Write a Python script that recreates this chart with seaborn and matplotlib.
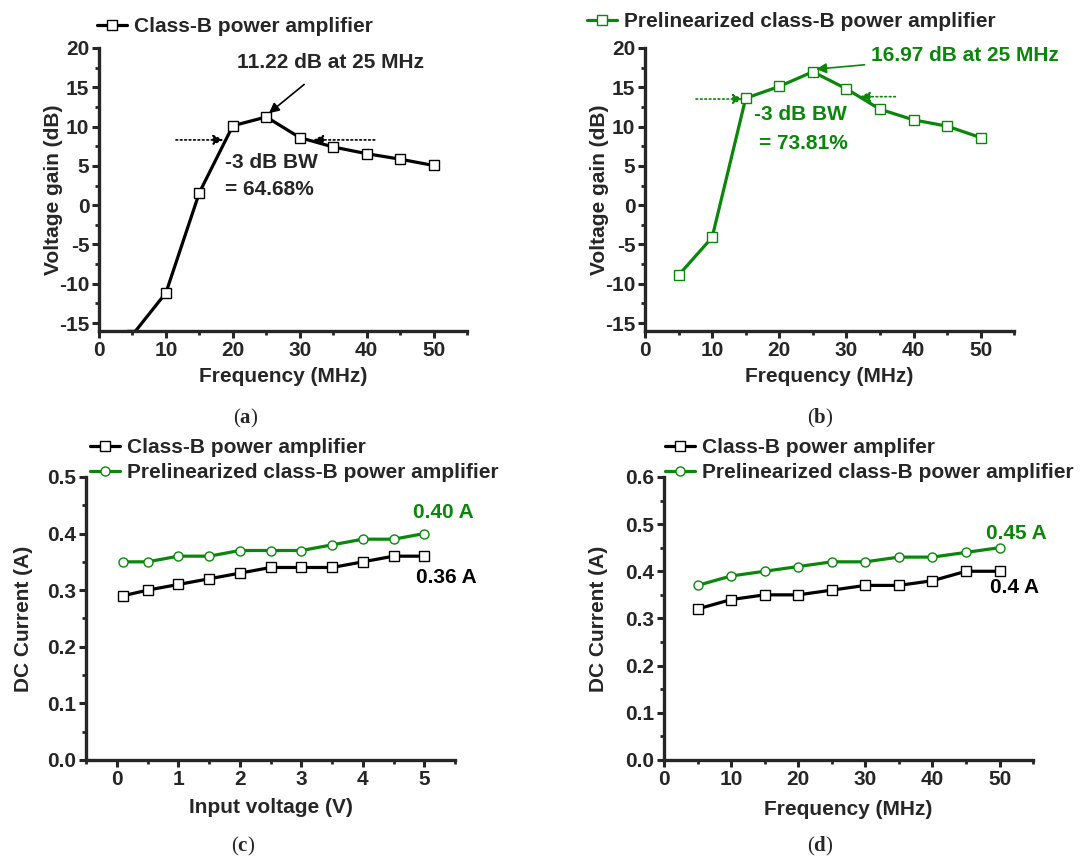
import matplotlib
matplotlib.use("Agg")
import matplotlib.pyplot as plt
import seaborn as sns
from matplotlib.ticker import MultipleLocator, AutoMinorLocator, FormatStrFormatter

sns.set_style("ticks")
plt.rcParams['font.family'] = ['Liberation Sans', 'DejaVu Sans']
plt.rcParams['font.weight'] = 'bold'
plt.rcParams['axes.unicode_minus'] = False
plt.rcParams['mathtext.fontset'] = 'custom'
plt.rcParams['mathtext.rm'] = 'Liberation Serif'
plt.rcParams['mathtext.bf'] = 'Liberation Serif:bold'

GREEN = '#0a870a'

# (a) / (b) voltage gain vs frequency
freq = [5, 10, 15, 20, 25, 30, 35, 40, 45, 50]
gain_classb = [-16.5, -11.15, 1.6, 10.1, 11.22, 8.6, 7.4, 6.55, 5.85, 5.05]
gain_prelin = [-8.9, -4.1, 13.6, 15.1, 16.97, 14.8, 12.2, 10.85, 10.05, 8.6]

# (c) DC current vs input voltage
vin = [0.1, 0.5, 1, 1.5, 2, 2.5, 3, 3.5, 4, 4.5, 5]
idc_v_classb = [0.29, 0.30, 0.31, 0.32, 0.33, 0.34, 0.34, 0.34, 0.35, 0.36, 0.36]
idc_v_prelin = [0.35, 0.35, 0.36, 0.36, 0.37, 0.37, 0.37, 0.38, 0.39, 0.39, 0.40]

# (d) DC current vs frequency
idc_f_classb = [0.32, 0.34, 0.35, 0.35, 0.36, 0.37, 0.37, 0.38, 0.40, 0.40]
idc_f_prelin = [0.37, 0.39, 0.40, 0.41, 0.42, 0.42, 0.43, 0.43, 0.44, 0.45]

fig = plt.figure(figsize=(10.89, 8.59), dpi=100)
ax_a = fig.add_axes([0.0909, 0.6147, 0.338, 0.3295])
ax_b = fig.add_axes([0.5923, 0.6147, 0.339, 0.3295])
ax_c = fig.add_axes([0.0790, 0.1153, 0.339, 0.3295])
ax_d = fig.add_axes([0.6097, 0.1153, 0.339, 0.3295])

FS = 15


def style_axes(ax):
    sns.despine(ax=ax)
    for s in ['left', 'bottom']:
        ax.spines[s].set_linewidth(2.4)
        ax.spines[s].set_zorder(5)
    ax.tick_params(which='major', direction='out', length=5, width=2.2, labelsize=FS, pad=2)
    ax.tick_params(which='minor', direction='out', length=3, width=2.0)
    ax.xaxis.set_minor_locator(AutoMinorLocator(2))
    ax.yaxis.set_minor_locator(AutoMinorLocator(2))


def draw(ax, x, y, color, marker, label):
    sns.lineplot(x=x, y=y, ax=ax, color=color, linewidth=2.3, marker=marker,
                 markersize=6.5, markerfacecolor='white', markeredgecolor=color,
                 markeredgewidth=1.0, label=label, zorder=3)


def legend(ax, x, y, spacing=0.3):
    ax.legend(loc='center left', bbox_to_anchor=(x, y), frameon=False, fontsize=FS,
              handlelength=1.45, handletextpad=0.3, borderaxespad=0, borderpad=0,
              labelspacing=spacing)


def dotted_arrow(ax, tip, start, color):
    ax.annotate('', xy=tip, xytext=start,
                arrowprops=dict(arrowstyle='-|>', color=color, lw=1.2, linestyle=':',
                                shrinkA=0, shrinkB=0, mutation_scale=15))


# ---- (a)
draw(ax_a, freq, gain_classb, 'black', 's', 'Class-B power amplifier')
ax_a.set_xlim(0, 55)
ax_a.set_ylim(-16, 20)
ax_a.xaxis.set_major_locator(MultipleLocator(10))
ax_a.yaxis.set_major_locator(MultipleLocator(5))
ax_a.set_xlabel('Frequency (MHz)', fontsize=FS, fontweight='bold', labelpad=5)
ax_a.set_ylabel('Voltage gain (dB)', fontsize=FS, fontweight='bold', labelpad=-3)
style_axes(ax_a)
legend(ax_a, -0.005, 1.074)
ax_a.annotate('11.22 dB at 25 MHz', xy=(25.4, 11.7), xytext=(34.6, 18.1), ha='center',
              va='center', fontsize=FS, fontweight='bold',
              arrowprops=dict(arrowstyle='-|>', color='black', lw=1.2,
                              shrinkA=10, shrinkB=0, mutation_scale=15))
dotted_arrow(ax_a, (18.6, 8.3), (11.5, 8.3), 'black')
dotted_arrow(ax_a, (32.0, 8.3), (41.2, 8.3), 'black')
ax_a.text(18.9, 5.4, '-3 dB BW', fontsize=FS, fontweight='bold', va='center')
ax_a.text(18.9, 2.0, '= 64.68%', fontsize=FS, fontweight='bold', va='center')

# ---- (b)
draw(ax_b, freq, gain_prelin, GREEN, 's', 'Prelinearized class-B power amplifier')
ax_b.set_xlim(0, 55)
ax_b.set_ylim(-16, 20)
ax_b.xaxis.set_major_locator(MultipleLocator(10))
ax_b.yaxis.set_major_locator(MultipleLocator(5))
ax_b.set_xlabel('Frequency (MHz)', fontsize=FS, fontweight='bold', labelpad=5)
ax_b.set_ylabel('Voltage gain (dB)', fontsize=FS, fontweight='bold', labelpad=-3)
style_axes(ax_b)
legend(ax_b, -0.157, 1.092)
ax_b.annotate('16.97 dB at 25 MHz', xy=(25.5, 17.3), xytext=(33.6, 19.0), ha='left',
              va='center', fontsize=FS, fontweight='bold', color=GREEN,
              arrowprops=dict(arrowstyle='-|>', color=GREEN, lw=1.2,
                              shrinkA=2, shrinkB=0, mutation_scale=15))
dotted_arrow(ax_b, (14.6, 13.5), (7.6, 13.5), GREEN)
dotted_arrow(ax_b, (32.0, 13.8), (37.3, 13.8), GREEN)
ax_b.text(16.2, 11.5, '-3 dB BW', fontsize=FS, fontweight='bold', va='center', color=GREEN)
ax_b.text(17.0, 7.8, '= 73.81%', fontsize=FS, fontweight='bold', va='center', color=GREEN)

# ---- (c)
draw(ax_c, vin, idc_v_classb, 'black', 's', 'Class-B power amplifier')
draw(ax_c, vin, idc_v_prelin, GREEN, 'o', 'Prelinearized class-B power amplifier')
ax_c.set_xlim(-0.5, 5.5)
ax_c.set_ylim(0, 0.5)
ax_c.xaxis.set_major_locator(MultipleLocator(1))
ax_c.yaxis.set_major_locator(MultipleLocator(0.1))
ax_c.yaxis.set_major_formatter(FormatStrFormatter('%.1f'))
ax_c.set_xlabel('Input voltage (V)', fontsize=FS, fontweight='bold', labelpad=7)
ax_c.set_ylabel('DC Current (A)', fontsize=FS, fontweight='bold', labelpad=10)
style_axes(ax_c)
legend(ax_c, 0.011, 1.06)
ax_c.text(5.3, 0.438, '0.40 A', fontsize=FS, fontweight='bold', color=GREEN,
          ha='center', va='center')
ax_c.text(5.35, 0.322, '0.36 A', fontsize=FS, fontweight='bold', color='black',
          ha='center', va='center')

# ---- (d)
draw(ax_d, freq, idc_f_classb, 'black', 's', 'Class-B power amplifer')
draw(ax_d, freq, idc_f_prelin, GREEN, 'o', 'Prelinearized class-B power amplifier')
ax_d.set_xlim(0, 55)
ax_d.set_ylim(0, 0.6)
ax_d.xaxis.set_major_locator(MultipleLocator(10))
ax_d.yaxis.set_major_locator(MultipleLocator(0.1))
ax_d.yaxis.set_major_formatter(FormatStrFormatter('%.1f'))
ax_d.set_xlabel('Frequency (MHz)', fontsize=FS, fontweight='bold', labelpad=8)
ax_d.set_ylabel('DC Current (A)', fontsize=FS, fontweight='bold', labelpad=12)
style_axes(ax_d)
legend(ax_d, 0.003, 1.06)
ax_d.text(52.5, 0.481, '0.45 A', fontsize=FS, fontweight='bold', color=GREEN,
          ha='center', va='center')
ax_d.text(52.2, 0.365, '0.4 A', fontsize=FS, fontweight='bold', color='black',
          ha='center', va='center')

# captions
for label, (cx, cy) in zip('abcd', [(246, 418), (820, 418), (243, 846), (820, 846)]):
    fig.text(cx / 1089, 1 - cy / 859, '($\\mathbf{%s}$)' % label, fontsize=15,
             fontweight='normal', family='Liberation Serif', ha='center', va='center')

fig.savefig('out.png', dpi=100)
